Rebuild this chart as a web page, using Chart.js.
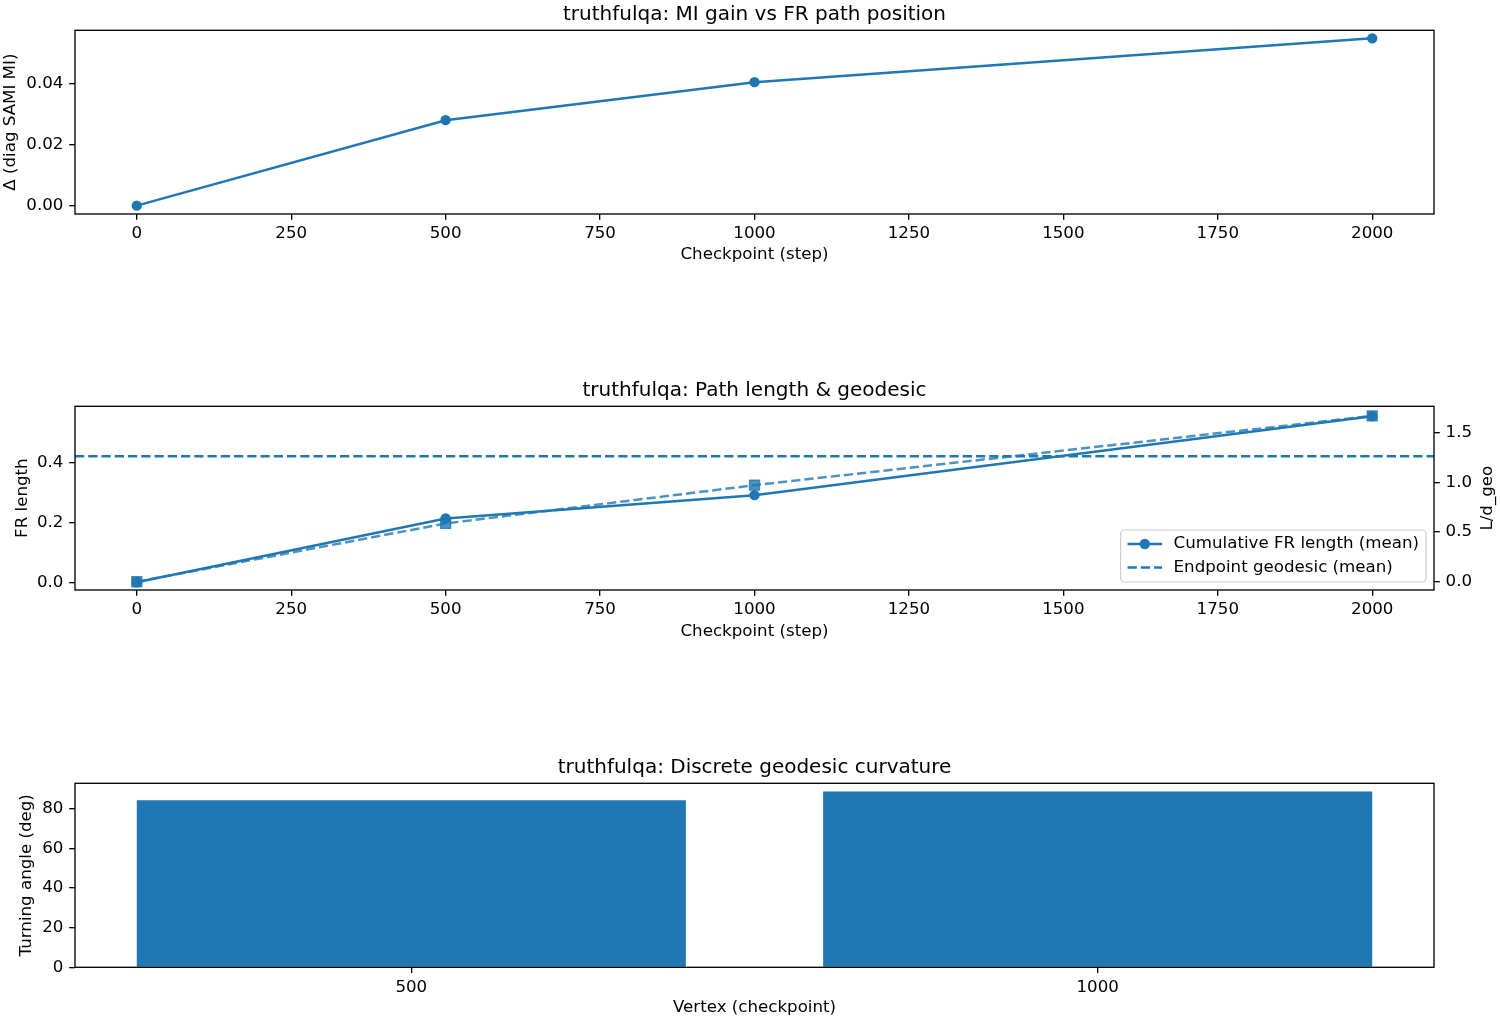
<!DOCTYPE html>
<html><head><meta charset="utf-8">
<script src="https://cdn.jsdelivr.net/npm/chart.js@4.4.1/dist/chart.umd.min.js"></script>
<style>
html,body{margin:0;padding:0;background:#fff;overflow:hidden;}
#wrap{position:relative;width:1500px;height:1020px;background:#fff;}
.panel{position:absolute;left:0;width:1500px;}
</style></head><body>
<div id="wrap">
<div class="panel" style="top:0px;height:270px"><canvas id="c1"></canvas></div>
<div class="panel" style="top:376px;height:270px"><canvas id="c2"></canvas></div>
<div class="panel" style="top:753px;height:267px"><canvas id="c3"></canvas></div>
</div>
<script>
// ---- data ----
const steps = [0, 500, 1000, 2000];
const miGain = [0, 0.0281, 0.0406, 0.0550];
const frLength = [0, 0.213, 0.291, 0.555];
const ldGeo = [0, 0.586, 0.971, 1.667];
const endpointGeodesic = [0.421];
const vertexLabels = ['500', '1000'];
const turningAngle = [84.2, 88.7];
const stepTicks = [0, 250, 500, 750, 1000, 1250, 1500, 1750, 2000];
const miTicks = [0, 0.02, 0.04];
const frTicks = [0, 0.2, 0.4];
const ratioTicks = [0, 0.5, 1.0, 1.5];
const angleTicks = [0, 20, 40, 60, 80];

// ---- style ----
const BLUE = '#1f77b4';
const BLUE_A = 'rgba(31,119,180,0.8)';
const FS = 16.67;
const TFS = 20;
const FAMILY = '"DejaVu Sans", sans-serif';
const DASH = [9.25, 4];
const LW = 2.5;
const TICKLEN = 5.8;
Chart.defaults.font.family = FAMILY;
Chart.defaults.font.size = FS;
Chart.defaults.color = '#000';

const framePlugin = {
  id: 'frame',
  afterDatasetsDraw(chart) {
    const a = chart.chartArea, c = chart.ctx;
    c.save();
    c.strokeStyle = '#000';
    c.lineWidth = 1.33;
    c.strokeRect(a.left, a.top, a.right - a.left, a.bottom - a.top);
    c.restore();
  }
};

const rightTitlePlugin = {
  id: 'rightTitle',
  afterDraw(chart, args, opts) {
    if (!opts || !opts.text) return;
    const a = chart.chartArea, c = chart.ctx;
    c.save();
    c.font = FS + 'px ' + FAMILY;
    c.fillStyle = '#000';
    c.translate(chart.width - opts.offset, (a.top + a.bottom) / 2);
    c.rotate(-Math.PI / 2);
    c.textAlign = 'center';
    c.textBaseline = 'middle';
    c.fillText(opts.text, 0, 0);
    c.restore();
  }
};

const legendPlugin = {
  id: 'mplLegend',
  afterDraw(chart, args, opts) {
    const items = chart.data.datasets.filter(d => d.inLegend);
    if (!items.length || !opts || !opts.show) return;
    const c = chart.ctx, a = chart.chartArea;
    c.save();
    c.font = FS + 'px ' + FAMILY;
    const textW = Math.max(...items.map(d => c.measureText(d.label).width));
    const padL = 7, hLen = 34.5, gap = 11.5, padR = 7;
    const w = padL + hLen + gap + textW + padR;
    const h = 52;
    const right = a.right - 8, bottom = a.bottom - 8;
    const left = right - w, top = bottom - h;
    const r = 4;
    c.beginPath();
    c.moveTo(left + r, top);
    c.lineTo(right - r, top); c.arcTo(right, top, right, top + r, r);
    c.lineTo(right, bottom - r); c.arcTo(right, bottom, right - r, bottom, r);
    c.lineTo(left + r, bottom); c.arcTo(left, bottom, left, bottom - r, r);
    c.lineTo(left, top + r); c.arcTo(left, top, left + r, top, r);
    c.closePath();
    c.fillStyle = 'rgba(255,255,255,0.8)';
    c.fill();
    c.strokeStyle = '#cccccc';
    c.lineWidth = 1.2;
    c.stroke();
    items.forEach((d, i) => {
      const y = top + 14 + i * 23.5;
      const x0 = left + padL, x1 = x0 + hLen;
      c.strokeStyle = d.borderColor;
      c.lineWidth = d.borderWidth;
      c.setLineDash(d.borderDash || []);
      c.beginPath(); c.moveTo(x0, y); c.lineTo(x1, y); c.stroke();
      c.setLineDash([]);
      if (d.pointRadius > 0) {
        c.fillStyle = d.pointBackgroundColor;
        c.beginPath(); c.arc((x0 + x1) / 2, y, d.pointRadius + 0.7, 0, Math.PI * 2); c.fill();
      }
      c.fillStyle = '#000';
      c.textAlign = 'left';
      c.textBaseline = 'middle';
      c.fillText(d.label, x1 + gap, y);
    });
    c.restore();
  }
};

function tickGrid() {
  return { display: true, drawOnChartArea: false, drawTicks: true, tickLength: TICKLEN, color: '#000', lineWidth: 1.33 };
}
function xLinear(min, max, ticks, fmt, title, titlePadBottom, height) {
  return {
    type: 'linear', min, max, offset: false,
    grid: Object.assign(tickGrid(), { offset: false }),
    border: { display: false },
    afterBuildTicks: s => { s.ticks = ticks.map(v => ({ value: v })); },
    afterFit: s => { s.height = height; },
    ticks: { padding: 4.2, maxRotation: 0, autoSkip: false, callback: fmt, color: '#000', font: { size: FS } },
    title: { display: true, text: title, color: '#000', font: { size: FS }, padding: { top: 0, bottom: titlePadBottom } }
  };
}
function yLinear(min, max, ticks, fmt, title, titlePadTop, position, width) {
  return {
    type: 'linear', min, max, position: position || 'left',
    grid: tickGrid(),
    border: { display: false },
    afterBuildTicks: s => { s.ticks = ticks.map(v => ({ value: v })); },
    afterFit: s => { s.width = width; },
    ticks: { padding: 5.8, autoSkip: false, callback: fmt, color: '#000', font: { size: FS } },
    title: { display: !!title, text: title || '', color: '#000', font: { size: FS }, padding: { top: titlePadTop, bottom: 0 } }
  };
}
function titleOpts(text) {
  return { display: true, fullSize: false, text, color: '#000', font: { size: TFS, weight: 'normal' }, padding: { top: 3, bottom: 3.3 } };
}
const baseOpts = {
  responsive: true, maintainAspectRatio: false, animation: false,
  events: []
};

// ---- panel 1 ----
new Chart(document.getElementById('c1'), {
  type: 'line',
  data: {
    datasets: [{
      label: 'MI gain',
      data: steps.map((s, i) => ({ x: s, y: miGain[i] })),
      borderColor: BLUE, backgroundColor: BLUE, borderWidth: LW,
      pointRadius: 4.5, pointBackgroundColor: BLUE, pointBorderColor: BLUE, pointBorderWidth: 1.4,
      tension: 0
    }]
  },
  options: Object.assign({}, baseOpts, {
    layout: { padding: { left: 0, right: 66, top: 0, bottom: 0 } },
    scales: {
      x: xLinear(-100, 2100, stepTicks, v => String(v), 'Checkpoint (step)', 5, 56),
      y: yLinear(-0.00275, 0.05765, miTicks, v => v.toFixed(2), 'Δ (diag SAMI MI)', 0.8, 'left', 75)
    },
    plugins: { legend: { display: false }, tooltip: { enabled: false }, title: titleOpts('truthfulqa: MI gain vs FR path position') }
  }),
  plugins: [framePlugin]
});

// ---- panel 2 ----
new Chart(document.getElementById('c2'), {
  type: 'line',
  data: {
    datasets: [
      {
        label: 'L/d_geo',
        data: steps.map((s, i) => ({ x: s, y: ldGeo[i] })),
        yAxisID: 'y1', order: 0,
        borderColor: BLUE_A, backgroundColor: BLUE_A, borderWidth: LW, borderDash: DASH,
        pointStyle: 'rect', pointRadius: 7, pointBackgroundColor: BLUE_A, pointBorderColor: BLUE_A, pointBorderWidth: 1.4,
        tension: 0, inLegend: false
      },
      {
        label: 'Cumulative FR length (mean)',
        data: steps.map((s, i) => ({ x: s, y: frLength[i] })),
        yAxisID: 'y', order: 1,
        borderColor: BLUE, backgroundColor: BLUE, borderWidth: LW,
        pointRadius: 4.5, pointBackgroundColor: BLUE, pointBorderColor: BLUE, pointBorderWidth: 1.4,
        tension: 0, inLegend: true
      },
      {
        label: 'Endpoint geodesic (mean)',
        data: [{ x: -100, y: endpointGeodesic[0] }, { x: 2100, y: endpointGeodesic[0] }],
        yAxisID: 'y', order: 2,
        borderColor: BLUE, backgroundColor: BLUE, borderWidth: LW, borderDash: DASH,
        pointRadius: 0, pointBackgroundColor: BLUE,
        tension: 0, inLegend: true
      }
    ]
  },
  options: Object.assign({}, baseOpts, {
    layout: { padding: { left: 0, right: 0, top: 0, bottom: 0 } },
    scales: {
      x: xLinear(-100, 2100, stepTicks, v => String(v), 'Checkpoint (step)', 4, 56),
      y: yLinear(-0.026, 0.588, frTicks, v => v.toFixed(1), 'FR length', 12.5, 'left', 75),
      y1: yLinear(-0.083, 1.764, ratioTicks, v => v.toFixed(1), '', 0, 'right', 66)
    },
    plugins: {
      legend: { display: false }, tooltip: { enabled: false },
      title: titleOpts('truthfulqa: Path length & geodesic'),
      rightTitle: { text: 'L/d_geo', offset: 12 },
      mplLegend: { show: true }
    }
  }),
  plugins: [framePlugin, rightTitlePlugin, legendPlugin]
});

// ---- panel 3 ----
new Chart(document.getElementById('c3'), {
  type: 'bar',
  data: {
    datasets: [{
      label: 'Turning angle',
      data: turningAngle.map((v, i) => ({ x: i, y: v })),
      backgroundColor: BLUE, borderWidth: 0,
      categoryPercentage: 1.0, barPercentage: 0.8
    }]
  },
  options: Object.assign({}, baseOpts, {
    layout: { padding: { left: 0, right: 66, top: 0, bottom: 0 } },
    scales: {
      x: xLinear(-0.49, 1.49, vertexLabels.map((_, i) => i), v => vertexLabels[v], 'Vertex (checkpoint)', 2, 52.7),
      y: yLinear(0, 92.8, angleTicks, v => String(v), 'Turning angle (deg)', 16.7, 'left', 75)
    },
    plugins: { legend: { display: false }, tooltip: { enabled: false }, title: titleOpts('truthfulqa: Discrete geodesic curvature') }
  }),
  plugins: [framePlugin]
});
</script>
</body></html>
